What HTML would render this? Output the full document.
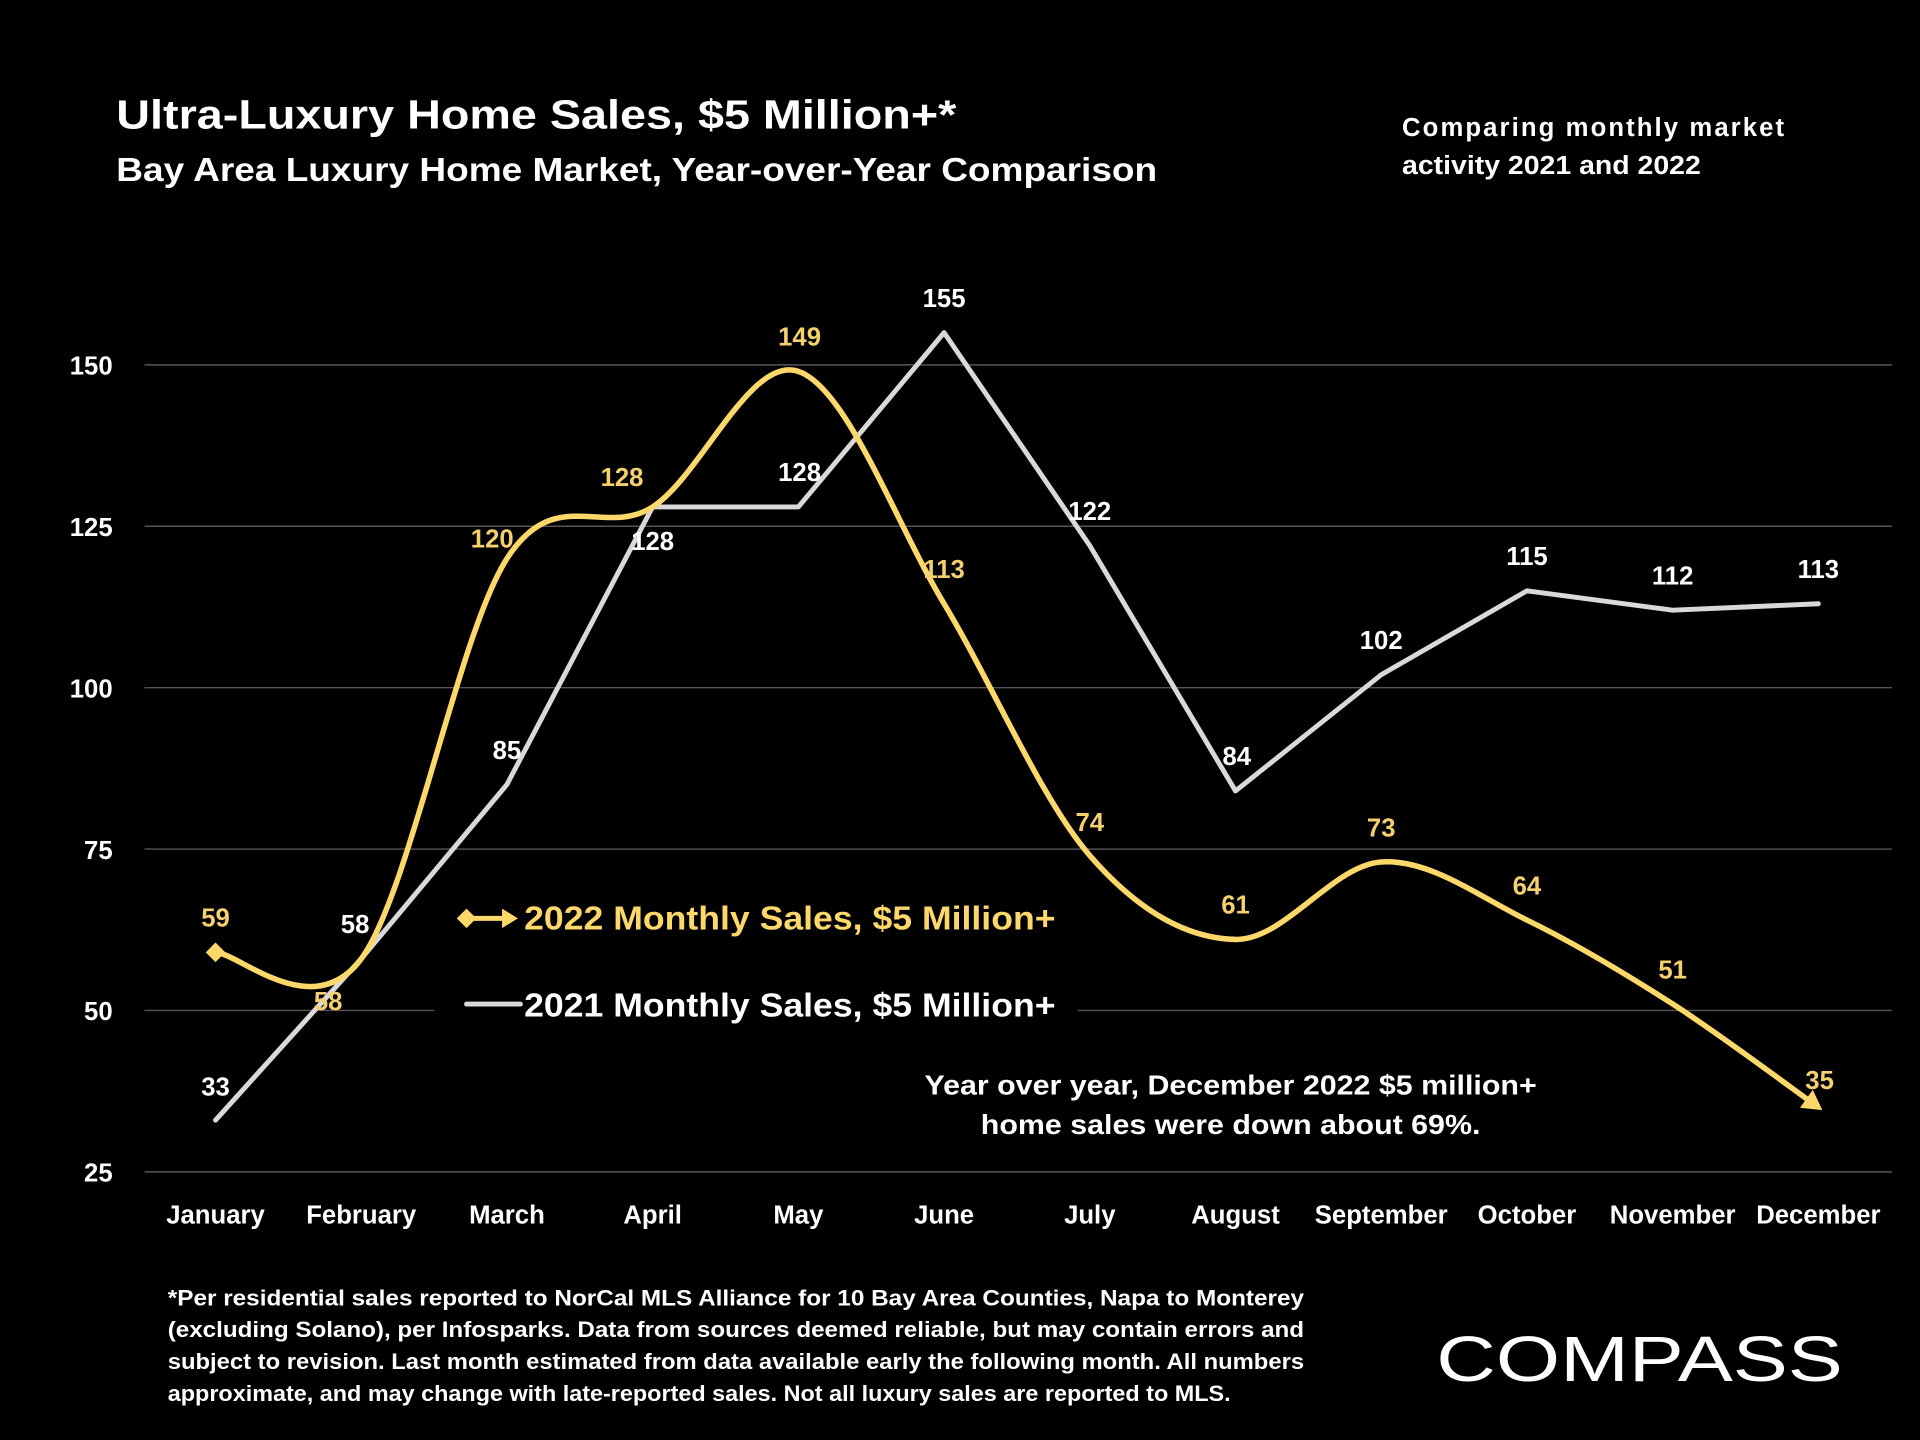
<!DOCTYPE html>
<html><head><meta charset="utf-8"><style>
html,body{margin:0;padding:0;background:#000;}
svg{display:block;font-family:"Liberation Sans",sans-serif;font-weight:bold;}
</style></head><body>
<svg id="chart" width="1920" height="1440" viewBox="0 0 1568 1176" xmlns="http://www.w3.org/2000/svg">
<rect width="1568" height="1176" fill="#000"/>
<text x="95" y="105" fill="#fff" font-size="33" textLength="686" lengthAdjust="spacingAndGlyphs">Ultra-Luxury Home Sales, $5 Million+*</text>
<text x="95" y="148" fill="#fff" font-size="27" textLength="850" lengthAdjust="spacingAndGlyphs">Bay Area Luxury Home Market, Year-over-Year Comparison</text>
<text x="1145" y="111" fill="#fff" font-size="21" textLength="312" lengthAdjust="spacing">Comparing  monthly  market</text>
<text x="1145" y="142" fill="#fff" font-size="21" textLength="244" lengthAdjust="spacingAndGlyphs">activity 2021 and 2022</text>
<g id="grid"></g>
<rect x="355" y="815" width="525" height="20" fill="#000"/>
<g id="series"></g>
<g id="labels"></g>
<g>
<g>
<line x1="380" y1="750" x2="415" y2="750" stroke="#fcd86a" stroke-width="4"/>
<polygon points="373,750 381,742 389,750 381,758" fill="#fcd86a"/>
<polygon points="410,742 423,750 410,758" fill="#fcd86a"/>
<text x="428" y="759" fill="#fcd86a" font-size="27" textLength="434" lengthAdjust="spacingAndGlyphs">2022 Monthly Sales, $5 Million+</text>
</g>
<g>
<line x1="381" y1="820" x2="425" y2="820" stroke="#d9d9d9" stroke-width="4" stroke-linecap="round"/>
<text x="428" y="830" fill="#fff" font-size="27" textLength="434" lengthAdjust="spacingAndGlyphs">2021 Monthly Sales, $5 Million+</text>
</g>
</g>
<text x="1005" y="894" text-anchor="middle" fill="#fff" font-size="23" textLength="500" lengthAdjust="spacingAndGlyphs">Year over year, December 2022 $5 million+</text>
<text x="1005" y="926" text-anchor="middle" fill="#fff" font-size="23" textLength="408" lengthAdjust="spacingAndGlyphs">home sales were down about 69%.</text>
<g fill="#fff" font-size="18">
<text x="137" y="1066" textLength="928" lengthAdjust="spacingAndGlyphs">*Per residential sales reported to NorCal MLS Alliance for 10 Bay Area Counties, Napa to Monterey</text>
<text x="137" y="1092" textLength="928" lengthAdjust="spacingAndGlyphs">(excluding Solano), per Infosparks. Data from sources deemed reliable, but may contain errors and</text>
<text x="137" y="1118" textLength="928" lengthAdjust="spacingAndGlyphs">subject to revision. Last month estimated from data available early the following month. All numbers</text>
<text x="137" y="1144" textLength="868" lengthAdjust="spacingAndGlyphs">approximate, and may change with late-reported sales. Not all luxury sales are reported to MLS.</text>
</g>
<text x="1173" y="1128" fill="#fff" font-size="52" font-weight="normal" textLength="332" lengthAdjust="spacingAndGlyphs">COMPASS</text>
</svg>
<script>
const months=["January","February","March","April","May","June","July","August","September","October","November","December"];
const sales2022=[59,58,120,128,149,113,74,61,73,64,51,35];
const sales2021=[33,58,85,128,128,155,122,84,102,115,112,113];
const yTicks=[25,50,75,100,125,150];
const NS="http://www.w3.org/2000/svg";
const x=i=>176+i*119;
const y=v=>957-(v-25)*(957-298)/125;
function mk(tag,attrs,parent,text){const e=document.createElementNS(NS,tag);for(const k in attrs)e.setAttribute(k,attrs[k]);if(text!==undefined)e.textContent=text;parent.appendChild(e);return e;}
const grid=document.getElementById('grid'),series=document.getElementById('series'),labels=document.getElementById('labels');
yTicks.forEach(t=>{
  const l=mk('line',{x1:118,x2:1545,y1:y(t),y2:y(t),stroke:'#555','stroke-width':1.2},grid);
  
  
  const tx=mk('text',{x:92,y:y(t)+8,'text-anchor':'end',fill:'#fff','font-size':21},grid,String(t));
  
  
});
months.forEach((m,i)=>{
  const tx=mk('text',{x:x(i),y:999,'text-anchor':'middle',fill:'#fff','font-size':21},grid,m);
  
  
});
const p21=sales2021.map((v,i)=>(i?'L':'M')+x(i)+','+y(v)).join(' ');
const l21=mk('path',{d:p21,fill:'none',stroke:'#d9d9d9','stroke-width':4,'stroke-linejoin':'round','stroke-linecap':'round'},series);


const pts=sales2022.map((v,i)=>[x(i),y(v)]);
let d='M'+pts[0][0]+','+pts[0][1];
for(let i=0;i<pts.length-1;i++){
  const p0=pts[i-1]||pts[i],p1=pts[i],p2=pts[i+1],p3=pts[i+2]||p2;
  const c1=[p1[0]+(p2[0]-p0[0])/6,p1[1]+(p2[1]-p0[1])/6];
  const c2=[p2[0]-(p3[0]-p1[0])/6,p2[1]-(p3[1]-p1[1])/6];
  d+=` C${c1[0]},${c1[1]} ${c2[0]},${c2[1]} ${p2[0]},${p2[1]}`;
}
const l22=mk('path',{d:d,fill:'none',stroke:'#fcd86a','stroke-width':4.5},series);


const p0=pts[0];
const dm=mk('polygon',{points:`${p0[0]-8},${p0[1]} ${p0[0]},${p0[1]-8} ${p0[0]+8},${p0[1]} ${p0[0]},${p0[1]+8}`,fill:'#fcd86a'},series);


const pe=pts[pts.length-1],pp=pts[pts.length-2];
const ang=Math.atan2(pe[1]-pp[1],pe[0]-pp[0])*180/Math.PI;
const ar=mk('polygon',{points:'4,0 -12,-9 -12,9',fill:'#fcd86a',transform:`translate(${pe[0]},${pe[1]}) rotate(${ang})`},series);


const off22=[[0,-29],[-27,34],[-12,-17],[-25,-25],[1,-29],[0,-29],[0,-28],[0,-29],[0,-29],[0,-29],[0,-29],[1,-23]];
const off21=[[0,-28],[-5,-29],[0,-29],[0,27],[1,-29],[0,-29],[0,-29],[1,-29],[0,-29],[0,-29],[0,-29],[0,-29]];
sales2022.forEach((v,i)=>{
  const t=mk('text',{x:x(i)+off22[i][0],y:y(v)+off22[i][1]+8,'text-anchor':'middle',fill:'#f5d06e','font-size':21},labels,String(v));
  
  
});
sales2021.forEach((v,i)=>{
  const t=mk('text',{x:x(i)+off21[i][0],y:y(v)+off21[i][1]+8,'text-anchor':'middle',fill:'#fff','font-size':21},labels,String(v));
  
  
});
</script>
</body></html>
